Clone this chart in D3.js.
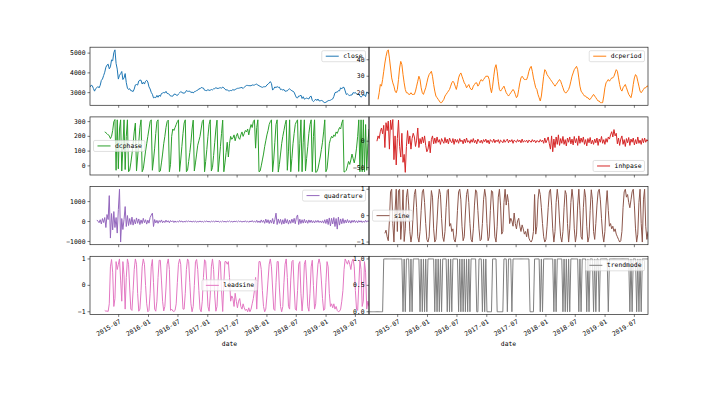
<!doctype html>
<html lang="en">

<head>
	<meta charset="utf-8">
	<title>HT indicators</title>
	<style>
		body { margin: 0; background: #fff; }
		svg text { font-family: "DejaVu Sans Mono", "Liberation Mono", monospace; font-size: 6.4px; fill: #000; }
	</style>
</head>

<body>
	<svg id="Chart" width="720" height="393"></svg>

	<script src="https://cdn.jsdelivr.net/npm/d3@7/dist/d3.min.js"></script>
	<script>
		// weekly samples, first one on 2015-01-05
		var firstDay = "2015-01-05";

		var close = [
			3285, 3376, 3351, 3210, 3076, 3203, 3247, 3310, 3241, 3372,
			3617, 3691, 3863, 4034, 4287, 4393, 4441, 4205, 4308, 4657,
			4611, 5023, 5166, 4478, 4192, 3686, 3877, 3957, 4070, 3663,
			3744, 3965, 3507, 3232, 3160, 3200, 3097, 3092, 3053, 3183,
			3391, 3412, 3383, 3590, 3632, 3630, 3436, 3525, 3435, 3578,
			3627, 3539, 3296, 3186, 3016, 2916, 2737, 2763, 2746, 2860,
			2767, 2874, 2810, 2955, 2979, 3009, 2985, 3066, 2960, 2946,
			2913, 2827, 2825, 2821, 2917, 2927, 2885, 2854, 2932, 2988,
			3054, 3012, 2979, 2976, 3004, 3108, 3070, 3067, 3078, 3002,
			3033, 2982, 3048, 3065, 3104, 3125, 3196, 3192, 3261, 3243,
			3232, 3123, 3110, 3104, 3154, 3113, 3124, 3159, 3140, 3196,
			3202, 3253, 3218, 3212, 3237, 3250, 3222, 3286, 3246, 3173,
			3129, 3154, 3085, 3090, 3111, 3105, 3158, 3123, 3157, 3192,
			3217, 3222, 3237, 3253, 3262, 3208, 3268, 3331, 3365, 3365,
			3353, 3352, 3348, 3390, 3378, 3385, 3416, 3432, 3382, 3353,
			3317, 3289, 3266, 3297, 3300, 3307, 3391, 3429, 3488, 3558,
			3462, 3129, 3199, 3289, 3254, 3307, 3269, 3279, 3152, 3168,
			3131, 3159, 3071, 3082, 3091, 3163, 3193, 3141, 3095, 3067,
			3021, 2875, 2747, 2733, 2831, 2829, 2874, 2705, 2795, 2669,
			2700, 2725, 2702, 2681, 2797, 2821, 2606, 2550, 2598, 2676,
			2599, 2679, 2580, 2588, 2605, 2593, 2516, 2494, 2514, 2553,
			2596, 2601, 2618, 2653, 2682, 2804, 2994, 3027, 3021, 3104,
			3091, 3246, 3189, 3271, 3263, 3086, 2906, 2939, 2882, 2852,
			2881, 2882, 3001, 2979, 3011, 2930, 2924, 2932, 2823, 2774,
			2823, 2886, 2886, 2799, 3031, 3006, 2932
		];

		var dcperiod = [
			null, null, null, null, null, null, null, null, 16, 20,
			25, 24, 28, 33, 38, 42, 45, 46, 41, 35,
			29, 26, 24, 21, 20, 22, 28, 35, 39, 37,
			31, 26, 22, 20, 20, 19, 19, 20, 19, 19,
			19, 21, 24, 27, 30, 28, 23, 20, 19, 21,
			23, 26, 29, 31, 32, 33, 30, 25, 21, 18,
			17, 16, 15, 14, 14, 15, 16, 18, 19, 20,
			21, 22, 24, 26, 27, 26, 24, 22, 25, 29,
			31, 32, 30, 28, 26, 25, 23, 24, 25, 23,
			22, 22, 24, 25, 26, 26, 24, 25, 27, 28,
			27, 28, 29, 30, 30, 30, 28, 23, 20, 24,
			30, 35, 37, 33, 27, 22, 21, 22, 23, 24,
			22, 20, 19, 18, 19, 20, 21, 22, 21, 19,
			17, 18, 22, 26, 29, 30, 29, 28, 28, 28,
			30, 33, 35, 36, 33, 29, 26, 23, 22, 19,
			17, 15, 18, 24, 30, 34, 33, 31, 30, 29,
			28, 27, 26, 25, 24, 25, 26, 27, 28, 27,
			25, 23, 21, 20, 20, 21, 22, 24, 27, 30,
			32, 34, 35, 36, 34, 29, 24, 21, 20, 19,
			18, 18, 17, 17, 16, 16, 17, 18, 19, 18,
			17, 16, 15, 15, 14, 14, 14, 18, 23, 26,
			27, 28, 27, 28, 29, 29, 30, 32, 34, 33,
			29, 25, 22, 21, 23, 24, 25, 23, 21, 19,
			18, 17, 20, 25, 29, 31, 30, 27, 24, 21,
			20, 21, 22, 23, 23, 24, 24
		];

		var dcphase = [
			null, null, null, null, null, null, null, null, null, null,
			null, null, null, 230, 225, 218, 210, 205, 185, 200,
			240, 300, 314, -30, 312, -20, 250, 312, -35, 120,
			312, -25, 200, 312, -40, -30, 20, 80, 150, 230,
			290, -35, 60, 160, 260, 312, -40, -20, 40, 100,
			150, 200, 250, 300, 312, -30, 40, 120, 220, 300,
			312, -40, -35, 20, 80, 150, 200, 260, 300, 310,
			-40, 10, 200, 250, 240, 260, 280, 300, 312, -38,
			40, 130, 220, 290, 312, -40, -30, 30, 90, 160,
			250, 310, -35, 20, 80, 140, 170, 200, 250, 300,
			312, -40, 30, 110, 200, 280, 312, -35, -10, 70,
			160, 250, 310, -40, 40, 130, 220, 310, -40, 20,
			90, 160, 60, 150, 200, 180, 190, 210, 170, 200,
			220, 190, 180, 210, 230, 200, 220, 240, 230, 250,
			210, 250, 280, 260, 300, 312, 120, 260, 312, -40,
			-35, 0, 40, 80, 130, 170, 210, 240, 280, 300,
			312, -40, 40, 160, 280, 312, -42, 10, 80, 150,
			200, 240, 280, 310, -30, 100, 312, -40, 50, 150,
			220, 280, 300, 312, -38, 150, 312, -40, 160, 312,
			-35, 50, 130, 220, 280, 312, -40, 200, 312, -44,
			-40, -20, 20, 60, 110, 160, 230, 312, -40, -20,
			60, 150, 180, 200, 190, 210, 200, 230, 220, 240,
			260, 250, 290, 312, -42, -38, -30, 0, 30, 10,
			40, 80, 50, 20, 60, 120, 200, 312, -40, 312,
			-40, 312, -40, 280, -30, 150, 250
		];

		var inhpase = [
			null, null, null, null, null, null, null, 0, 10, 5,
			18, 25, 14, 30, -12, 35, 20, 38, -15, 40,
			22, 41, -35, 10, -45, 5, 40, -10, -30, 15,
			-40, -25, -59, -10, 20, -5, 10, -15, 5, 15,
			8, -10, 2, 25, -12, 5, -5, 8, -3, 10,
			-8, -20, -15, 0, -22, 3, 10, -5, 6, -4,
			8, -2, 3, -6, 5, 0, -4, 7, -3, 4,
			-5, 6, 0, -3, 5, -6, 4, -2, 3, -4,
			5, -1, 2, -5, 4, -3, 6, -2, 1, -4,
			3, -2, 5, -3, 2, -5, 4, 0, -3, 2,
			-4, 3, -1, 4, -3, 2, -5, 3, 0, -2,
			4, -3, 2, -1, 3, -4, 2, 0, -3, 3,
			-2, 1, 4, -3, 2, -1, 3, -4, 2, 0,
			-2, 3, -1, 2, -3, 4, -2, 1, -1, 2,
			-3, 2, 0, -2, 3, -1, 2, -3, 1, 0,
			-2, 3, -1, 2, -4, 6, -3, 2, 8, -5,
			-15, 10, -20, 4, -12, 8, -6, 12, -8, 5,
			-4, 9, -6, 3, -9, 6, -2, 8, -5, 4,
			-7, 9, -3, 5, -8, 10, -4, 6, -2, 8,
			-6, 3, -9, 5, -3, 7, -5, 2, -6, 4,
			-3, 6, -8, 4, -2, 9, -4, 3, -6, 5,
			-2, 8, 4, 12, 18, 8, 22, 10, 15, -5,
			6, -8, 4, 10, -6, 3, -10, 5, -3, 7,
			-8, 4, -2, 6, -7, 3, -5, 8, -4, 2,
			-6, 5, -3, 6, -2, 3, 0
		];

		var quadrature = [
			null, null, null, null, null, null, 80, 20, -60, 90,
			-120, 150, -50, 200, -300, 350, 100, 1300, -830, 400,
			-420, 500, -300, 200, -580, 600, 1620, -1030, 150, -400,
			100, 750, -250, 300, -200, 150, -150, 220, -180, 100,
			-120, 180, -90, 130, -150, 80, -100, 160, -60, 90,
			-130, 70, -80, 200, 320, 420, -250, 100, -70, 60,
			-90, 50, -40, 80, -60, 30, -50, 70, -30, 40,
			-60, 50, -20, 40, -50, 30, -40, 20, -30, 50,
			-20, 30, -40, 20, -30, 40, -20, 30, -10, 20,
			-30, 20, -20, 30, -40, 10, -20, 30, -20, 10,
			-30, 20, -10, 30, -20, 10, -30, 20, -10, 20,
			-20, 30, -10, 20, -30, 10, -20, 30, -20, 10,
			-30, 20, -10, 30, -20, 10, -30, 20, -10, 20,
			-20, 30, -10, 20, -30, 10, -20, 40, -30, 20,
			-40, 30, -20, 50, -30, 20, -40, 60, -50, 30,
			-60, 80, -40, 60, -90, 120, -60, 90, -100, 70,
			-80, 150, -120, 100, 420, -150, 130, -90, 110, -140,
			90, -120, 150, -80, 100, -130, 70, -90, 120, -60,
			160, -110, 200, 330, -150, 120, -100, 90, -80, 110,
			-70, 60, -90, 80, -50, 70, -60, 40, -70, 50,
			-40, 60, -50, 30, -60, 40, -80, 90, -100, 120,
			-150, 180, -220, 160, -120, 200, -250, 150, -380, 220,
			-180, 130, -110, 150, -90, 80, -70, 100, -60, 50,
			-80, 60, -40, 70, -50, 40, -60, 50, -30, 40,
			-50, 30, -40, 60, -20, 30, 10
		];

		var sine = [
			null, null, null, null, null, null, null, null, null, null,
			null, null, null, null, -0.67, -0.55, -0.8, -0.95, -0.2, 0.9,
			1.0, -0.3, -1.0, 0.2, 1.0, -0.6, 0.95, 1.0, -0.9, -0.2,
			0.98, -0.98, -0.5, 0.7, 1.0, 0.4, -0.6, -1.0, -0.7, 0.1,
			0.8, 1.0, 0.3, -0.8, -1.0, -0.6, 0.2, 0.9, 1.0, 0.5,
			-0.3, -0.9, -1.0, -0.8, 0.1, 0.95, 0.7, -0.5, -1.0, -0.9,
			-0.2, 0.6, 1.0, 0.8, -0.1, -0.8, -0.98, -0.6, 0.3, 0.95,
			1.0, -0.4, -0.3, -0.6, -0.5, -0.9, -1.0, -0.7, 0.2, 0.9,
			1.0, 0.6, -0.4, -0.95, -0.8, 0.1, 0.8, 1.0, 0.5, -0.3,
			-0.9, -1.0, -0.5, 0.4, 0.98, 0.9, 0.2, -0.5, -0.95, -0.9,
			-0.3, 0.6, 1.0, 0.7, -0.3, -0.95, -0.8, 0.2, 0.95, 0.9,
			0.1, -0.8, -1.0, -0.4, 0.7, 1.0, 0.4, -0.7, -0.6, 0.5,
			1.0, 0.4, 0.8, 0.5, -0.3, -0.1, -0.2, -0.4, 0.1, -0.3,
			-0.5, -0.2, -0.1, -0.4, -0.6, -0.35, -0.5, -0.7, -0.6, -0.8,
			-0.5, -0.85, -0.95, -1.0, -0.9, -0.6, 0.8, -0.7, -0.4, 0.6,
			1.0, 0.8, 0.3, -0.3, -0.8, -1.0, -0.9, -0.4, 0.3, 0.9,
			1.0, 0.4, -0.5, -1.0, -0.6, 0.5, 1.0, 0.6, -0.2, -0.8,
			-1.0, -0.6, 0.3, 0.95, 0.8, -0.3, -1.0, -0.5, 0.5, 1.0,
			0.6, -0.5, -1.0, -0.7, 0.4, 1.0, 0.2, -0.8, -0.9, 0.3,
			1.0, 0.7, -0.4, -1.0, -0.8, 0.2, 0.98, 0.6, -0.6, -0.9,
			-0.3, 0.4, 0.9, 1.0, 0.6, -0.1, -0.7, -1.0, -0.6, 0.4,
			0.95, 0.2, -0.4, -0.3, -0.5, -0.4, -0.6, -0.5, -0.7, -0.8,
			-0.9, -1.0, -0.95, -0.6, 0.3, 0.9, 1.0, 0.7, 0.8, 0.5,
			0.3, 0.6, 0.9, 1.0, 0.4, -0.5, -1.0, -0.7, 0.5, 1.0,
			-0.3, -1.0, 0.6, 1.0, -0.4, -0.9, -0.6
		];

		var leadsine = [
			null, null, null, null, null, null, null, null, null, null,
			null, null, null, -0.95, -0.98, -0.97, -0.99, -0.7, 0.7, 0.98,
			0.5, -0.8, -0.5, 0.9, 0.6, 0.8, 1.0, 0.2, -0.6, 0.9,
			0.4, -0.9, 0.3, 1.0, 0.8, -0.1, -0.9, -0.95, -0.2, 0.6,
			1.0, 0.8, -0.3, -0.98, -0.9, -0.2, 0.7, 1.0, 0.8, 0.0,
			-0.7, -1.0, -0.95, -0.3, 0.7, 0.98, 0.1, -0.9, -0.98, -0.6,
			0.3, 0.95, 0.95, 0.2, -0.6, -0.97, -0.8, -0.1, 0.8, 1.0,
			0.6, -0.95, -0.9, -0.97, -0.99, -0.95, -0.7, 0.1, 0.8, 1.0,
			0.8, -0.1, -0.9, -0.9, -0.3, 0.6, 1.0, 0.9, 0.1, -0.7,
			-1.0, -0.8, 0.0, 0.9, 0.98, 0.6, -0.2, -0.9, -1.0, -0.6,
			0.3, 0.97, 0.9, 0.1, -0.8, -0.98, -0.4, 0.7, 1.0, 0.6,
			-0.4, -0.98, -0.8, 0.2, 0.95, 0.9, -0.2, -0.99, 0.1, 0.9,
			0.9, 0.8, 0.9, 0.3, -0.6, -0.4, -0.5, -0.8, -0.3, -0.6,
			-0.85, -0.6, -0.5, -0.8, -0.9, -0.7, -0.85, -0.95, -0.9, -1.0,
			-0.85, -1.0, -0.9, -0.7, -0.5, -0.2, 0.3, -0.9, 0.1, 0.9,
			0.9, 0.6, -0.2, -0.8, -1.0, -0.9, -0.4, 0.2, 0.8, 1.0,
			0.7, -0.1, -0.9, -0.95, 0.1, 0.9, 0.9, -0.1, -0.8, -1.0,
			-0.8, 0.1, 0.8, 1.0, 0.3, -0.8, -0.9, 0.2, 0.9, 0.95,
			-0.1, -0.9, -0.95, -0.2, 0.8, 0.9, -0.3, -0.97, -0.4, 0.8,
			0.95, 0.2, -0.8, -0.98, -0.3, 0.7, 0.95, 0.0, -0.9, -0.7,
			0.2, 0.8, 1.0, 0.8, 0.2, -0.5, -0.95, -0.9, 0.1, 0.9,
			0.7, -0.3, -0.8, -0.7, -0.85, -0.7, -0.9, -0.8, -0.95, -1.0,
			-0.98, -0.9, -0.6, -0.2, 0.6, 1.0, 0.9, 0.8, 0.95, 0.8,
			0.6, 0.9, 1.0, 0.7, -0.2, -0.9, -0.95, 0.0, 0.95, 0.6,
			-0.8, -0.6, 0.9, 0.5, -0.9, -0.6, -0.8
		];

		var trendmode = [
			0, 0, 0, 0, 0, 0, 0, 0, 0, 0,
			0, 0, 0, 1, 1, 1, 1, 1, 1, 1,
			1, 1, 1, 1, 1, 1, 1, 1, 1, 1,
			0, 1, 0, 1, 1, 1, 0, 1, 0, 1,
			1, 1, 1, 1, 1, 0, 1, 0, 1, 0,
			1, 0, 1, 1, 1, 1, 1, 1, 0, 1,
			0, 1, 0, 1, 0, 1, 1, 1, 1, 0,
			1, 0, 1, 0, 1, 1, 1, 1, 1, 0,
			1, 0, 1, 0, 1, 0, 1, 0, 1, 0,
			1, 1, 1, 1, 1, 0, 0, 1, 1, 1,
			0, 1, 0, 1, 0, 0, 0, 0, 0, 1,
			1, 1, 1, 0, 0, 0, 0, 0, 0, 1,
			1, 1, 0, 1, 1, 1, 0, 1, 1, 1,
			1, 1, 1, 1, 1, 1, 1, 1, 1, 1,
			1, 1, 0, 0, 0, 0, 1, 1, 1, 1,
			1, 0, 1, 0, 1, 1, 1, 1, 1, 1,
			1, 1, 1, 0, 1, 0, 1, 1, 1, 1,
			1, 0, 1, 0, 1, 0, 1, 0, 1, 1,
			1, 1, 1, 1, 1, 0, 1, 0, 1, 1,
			1, 1, 0, 1, 0, 1, 1, 1, 0, 1,
			0, 1, 1, 0, 1, 1, 1, 1, 1, 1,
			1, 0, 1, 1, 1, 1, 1, 1, 1, 1,
			1, 1, 1, 1, 1, 1, 1, 1, 1, 1,
			0, 1, 0, 1, 1, 1, 0, 1, 0, 1,
			0, 1, 1, 1, 1, 1, 1
		];

		var xTickLabels = ["2015-07", "2016-01", "2016-07", "2017-01", "2017-07",
			"2018-01", "2018-07", "2019-01", "2019-07"];

		var closeTicks = [3000, 4000, 5000],
			dcperiodTicks = [20, 30, 40],
			dcphaseTicks = [0, 100, 200, 300],
			inhpaseTicks = [-50, 0],
			quadratureTicks = [-1000, 0, 1000],
			sineTicks = [-1, 0, 1],
			leadsineTicks = [-1, 0, 1],
			trendmodeTicks = [0, 0.5, 1];

		(function () {
			"use strict"

			var svg = d3.select("#Chart");

			// figure layout, like subplots_adjust(left=.125, right=.9, top=.88, bottom=.2, hspace=.2, wspace=0)
			var L = { left: 90, right: 648, top: 47.2, bottom: 314.4, hspace: 0.2 },
				nRows = 4, nCols = 2,
				axW = (L.right - L.left) / nCols,
				axH = (L.bottom - L.top) / (nRows + (nRows - 1) * L.hspace);

			var start = d3.timeParse("%Y-%m-%d")(firstDay),
				dates = close.map(function (d, i) { return d3.timeDay.offset(start, 7 * i); }),
				xTicks = xTickLabels.map(d3.timeParse("%Y-%m"));

			var panels = [
				{ name: "close", values: close, color: "#1f77b4", ticks: closeTicks, fmt: "d", loc: "upper right" },
				{ name: "dcperiod", values: dcperiod, color: "#ff7f0e", ticks: dcperiodTicks, fmt: "d", loc: "upper right" },
				{ name: "dcphase", values: dcphase, color: "#2ca02c", ticks: dcphaseTicks, fmt: "d", loc: "center left" },
				{ name: "inhpase", values: inhpase, color: "#d62728", ticks: inhpaseTicks, fmt: "d", loc: "lower right" },
				{ name: "quadrature", values: quadrature, color: "#9467bd", ticks: quadratureTicks, fmt: "d", loc: "upper right" },
				{ name: "sine", values: sine, color: "#8c564b", ticks: sineTicks, fmt: "d", loc: "center left" },
				{ name: "leadsine", values: leadsine, color: "#e377c2", ticks: leadsineTicks, fmt: "d", loc: "center" },
				{ name: "trendmode", values: trendmode, color: "#7f7f7f", ticks: trendmodeTicks, fmt: ".1f", loc: "upper right" }
			];

			panels.forEach(function (p, k) {
				var row = Math.floor(k / nCols), col = k % nCols,
					x0 = L.left + col * axW,
					y0 = L.top + row * axH * (1 + L.hspace);

				var x = d3.scaleTime().domain(d3.extent(dates)).range([x0, x0 + axW]);
				var ext = d3.extent(p.values.filter(function (v) { return v !== null; })),
					pad = (ext[1] - ext[0]) * 0.05;
				var y = d3.scaleLinear().domain([ext[0] - pad, ext[1] + pad]).range([y0 + axH, y0]);

				var g = svg.append("g");

				g.append("clipPath").attr("id", "clip" + k)
					.append("rect").attr("x", x0).attr("y", y0).attr("width", axW).attr("height", axH);

				var line = d3.line()
					.defined(function (d) { return d !== null; })
					.x(function (d, i) { return x(dates[i]); })
					.y(function (d) { return y(d); });

				g.append("path")
					.datum(p.values)
					.attr("clip-path", "url(#clip" + k + ")")
					.attr("fill", "none")
					.attr("stroke", p.color)
					.attr("stroke-width", 1)
					.attr("stroke-linejoin", "round")
					.attr("d", line);

				// frame
				g.append("rect")
					.attr("x", x0).attr("y", y0).attr("width", axW).attr("height", axH)
					.attr("fill", "none").attr("stroke", "#222").attr("stroke-width", 0.7);

				// x ticks on every panel, labels only on the bottom row
				xTicks.forEach(function (t, j) {
					var tx = x(t);
					g.append("line")
						.attr("x1", tx).attr("x2", tx)
						.attr("y1", y0 + axH).attr("y2", y0 + axH + 2.5)
						.attr("stroke", "#222").attr("stroke-width", 0.6);
					if (row === nRows - 1) {
						g.append("text")
							.attr("transform", "translate(" + (tx + 1.5) + "," + (y0 + axH + 6.5) + ") rotate(-30)")
							.attr("text-anchor", "end")
							.attr("dy", "0.35em")
							.text(xTickLabels[j]);
					}
				});

				if (row === nRows - 1) {
					g.append("text")
						.attr("x", x0 + axW / 2).attr("y", 345.5)
						.attr("text-anchor", "middle")
						.text("date");
				}

				// y ticks
				var f = d3.format(p.fmt);
				p.ticks.forEach(function (t) {
					var ty = y(t);
					g.append("line")
						.attr("x1", x0 - 2.5).attr("x2", x0)
						.attr("y1", ty).attr("y2", ty)
						.attr("stroke", "#222").attr("stroke-width", 0.6);
					g.append("text")
						.attr("x", x0 - 4.5).attr("y", ty)
						.attr("dy", "0.33em")
						.attr("text-anchor", "end")
						.text(f(t));
				});

				// legend
				var lg = g.append("g"),
					box = lg.append("rect"),
					lab = lg.append("text").text(p.name).attr("x", 21.5).attr("y", 5.5).attr("dy", "0.33em");
				var tw = lab.node().getComputedTextLength(),
					bw = tw + 24.5, bh = 11, m = 3.5, lx, ly;
				lg.append("line")
					.attr("x1", 4).attr("x2", 17).attr("y1", 5.5).attr("y2", 5.5)
					.attr("stroke", p.color).attr("stroke-width", 1);
				box.attr("width", bw).attr("height", bh).attr("rx", 1.5)
					.attr("fill", "#fff").attr("fill-opacity", 0.8)
					.attr("stroke", "#ccc").attr("stroke-width", 0.6);

				if (p.loc === "upper right") { lx = x0 + axW - m - bw; ly = y0 + m; }
				else if (p.loc === "lower right") { lx = x0 + axW - m - bw; ly = y0 + axH - m - bh; }
				else if (p.loc === "center left") { lx = x0 + m; ly = y0 + (axH - bh) / 2; }
				else { lx = x0 + (axW - bw) / 2; ly = y0 + (axH - bh) / 2; }
				lg.attr("transform", "translate(" + lx + "," + ly + ")");
			});
		})();
	</script>
</body>

</html>
